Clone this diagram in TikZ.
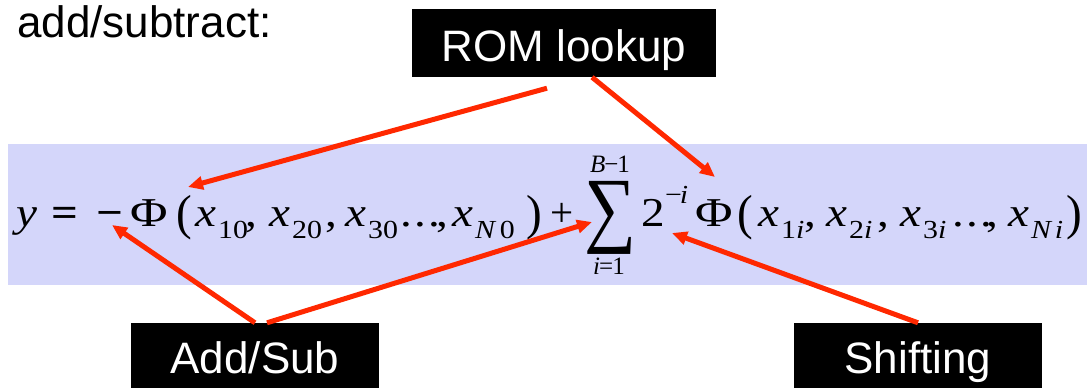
\documentclass[tikz,border=0pt]{standalone}
\usepackage{fontspec}
\usepackage{graphicx}
\setmainfont{Liberation Serif}
\newfontfamily\sansf{Liberation Sans}
\usetikzlibrary{arrows.meta}
\definecolor{band}{RGB}{212,214,250}
\definecolor{arr}{RGB}{255,40,0}
\newcommand\mainsz{\fontsize{41}{41}\selectfont}
\newcommand\subsz{\fontsize{26}{26}\selectfont}
\newcommand\limsz{\fontsize{25}{25}\selectfont}
\newcommand\hs[1]{\scalebox{1.15}[1]{#1}}
\newcommand\xsub[1]{\hs{\textit{x}}\kern2pt\raisebox{-12pt}{\hs{\subsz #1}}}
\newcommand\bigparen[1]{\raisebox{-3pt}{\scalebox{1.15}[1.2]{#1}}}
\newcommand\dotsrow{\hs{.}\kern2.5pt\hs{.}\kern2.5pt\hs{.}}
\begin{document}
\begin{tikzpicture}[x=1pt,y=-1pt,
  fp/.style={anchor=base west,inner sep=0pt,font=\mainsz},
  lbl/.style={fill=black,text=white,inner sep=0pt,font=\sansf\fontsize{44}{44}\selectfont,text height=36pt,text depth=0pt},
  callout/.style={draw=arr,line width=5pt,-{Triangle[length=15pt,width=13pt]}}]
\useasboundingbox (0,0) rectangle (1087,388);
\fill[band] (8,144) rectangle (1087,285);
\node[anchor=base west,inner sep=0pt,font=\sansf\fontsize{44}{44}\selectfont] (title) at (17,37) {add/subtract:};
% formula
\node[fp] (fy) at (16,226) {\hs{\textit{y}}};
\node[fp] (feq) at (51,226) {\hs{\textbf{=}}};
\node[fp] (fmin) at (96,226) {\hs{\textbf{−}}};
\node[fp] (fphia) at (130,226) {\scalebox{1.25}[1]{Φ}};
\node[fp] (fpla) at (176,226) {\bigparen{(}};
\node[fp] (xa) at (195,226) {\xsub{10}};
\node[fp] (ca) at (245,226) {\hs{,}};
\node[fp] (xb) at (269,226) {\xsub{20}};
\node[fp] (cb) at (325,226) {\hs{,}};
\node[fp] (xc) at (345,226) {\xsub{30}};
\node[fp] (da) at (400,226) {\dotsrow};
\node[fp] (cc) at (436,226) {\hs{,}};
\node[fp] (xd) at (452,226) {\xsub{\textit{N}\kern3pt 0}};
\node[fp] (fpra) at (526,226) {\bigparen{)}};
\node[fp] (fplus) at (550,226) {+};
\node[inner sep=0pt] (fsum) at (610,218) {\resizebox*{52pt}{73pt}{∑}};
\node[anchor=base,inner sep=0pt,font=\limsz] (fup) at (610,172) {\textit{B}\kern-1pt−\kern-1pt1};
\node[anchor=base,inner sep=0pt,font=\limsz] (flo) at (609,274) {\textit{i}\kern-1pt=\kern-1pt1};
\node[fp] (ftwo) at (641,226) {\hs{2}};
\node[anchor=base west,inner sep=0pt,font=\subsz] (fsup) at (665,203) {\hs{−\kern-2pt\textit{i}}};
\node[fp] (fphib) at (695,226) {\scalebox{1.25}[1]{Φ}};
\node[fp] (fplb) at (737,226) {\bigparen{(}};
\node[fp] (xe) at (758,226) {\xsub{1\textit{i}}};
\node[fp] (cd) at (804,226) {\hs{,}};
\node[fp] (xf) at (826,226) {\xsub{2\textit{i}}};
\node[fp] (ce) at (877,226) {\hs{,}};
\node[fp] (xg) at (900,226) {\xsub{3\textit{i}}};
\node[fp] (db) at (952,226) {\dotsrow};
\node[fp] (cf) at (986,226) {\hs{,}};
\node[fp] (xh) at (1008,226) {\xsub{\textit{N}\kern2pt\textit{i}}};
\node[fp] (fprb) at (1066,226) {\bigparen{)}};
% boxes
\node[lbl,minimum width=304pt,minimum height=68pt] (rom) at (564,43) {ROM lookup};
\node[lbl,minimum width=248pt,minimum height=65pt] (add) at (255,355.5) {Add/Sub};
\node[lbl,minimum width=248pt,minimum height=65pt] (shift) at (918,355.5) {Shifting};
% arrow targets
\coordinate (ta) at (188,187);
\coordinate (tb) at (715,177);
\coordinate (tc) at (112,225);
\coordinate (td) at (592,222);
\coordinate (te) at (672,233);
\draw[callout] ([xshift=-17pt,yshift=-11pt]rom.south) -- (ta);
\draw[callout] ([xshift=28pt]rom.south) -- (tb);
\draw[callout] (add.north) -- (tc);
\draw[callout] ([xshift=12pt]add.north) -- (td);
\draw[callout] (shift.north) -- (te);
\end{tikzpicture}
\end{document}
